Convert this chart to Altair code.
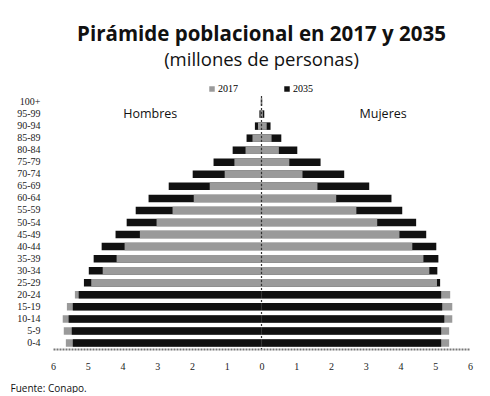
import altair as alt
import pandas as pd

ages = ["0-4", "5-9", "10-14", "15-19", "20-24", "25-29", "30-34", "35-39",
        "40-44", "45-49", "50-54", "55-59", "60-64", "65-69", "70-74",
        "75-79", "80-84", "85-89", "90-94", "95-99", "100+"]

men_2017 = [5.63, 5.69, 5.72, 5.60, 5.37, 4.90, 4.57, 4.17, 3.94, 3.50, 3.02,
            2.56, 1.95, 1.49, 1.06, 0.78, 0.46, 0.26, 0.10, 0.03, 0.01]
men_2035 = [5.43, 5.46, 5.55, 5.43, 5.26, 5.11, 4.97, 4.83, 4.60, 4.20, 3.88,
            3.62, 3.25, 2.67, 1.98, 1.38, 0.83, 0.43, 0.19, 0.06, 0.02]
women_2017 = [5.40, 5.40, 5.49, 5.49, 5.43, 5.05, 4.83, 4.66, 4.34, 3.97, 3.33,
              2.73, 2.15, 1.61, 1.18, 0.80, 0.50, 0.29, 0.15, 0.04, 0.01]
women_2035 = [5.17, 5.17, 5.26, 5.20, 5.17, 5.14, 5.06, 5.09, 5.03, 4.74, 4.45,
              4.05, 3.74, 3.10, 2.38, 1.70, 1.03, 0.57, 0.26, 0.08, 0.02]

years = ["2017", "2035"]
sex_labels = ["Hombres", "Mujeres"]
sex_label_x = [-3.2, 3.5]
sex_label_age = ["95-99", "95-99"]
x_ticks = list(range(-6, 7))

rows = []
for sex, sign, s17, s35 in [("Hombres", -1, men_2017, men_2035),
                            ("Mujeres", 1, women_2017, women_2035)]:
    for a, v17, v35 in zip(ages, s17, s35):
        big17 = v17 >= v35
        rows.append({"age": a, "sex": sex, "year": "2017", "value": sign * v17,
                     "layer": "big" if big17 else "small"})
        rows.append({"age": a, "sex": sex, "year": "2035", "value": sign * v35,
                     "layer": "small" if big17 else "big"})
df = pd.DataFrame(rows)
lab_df = pd.DataFrame({"text": sex_labels, "value": sex_label_x, "age": sex_label_age})
zero_df = pd.DataFrame({"value": [0]})

age_order = ages[::-1]

x_axis = alt.Axis(values=x_ticks, labelExpr="abs(datum.value)",
                  labelOverlap=False, labelFlush=False, tickCount=13,
                  grid=False, ticks=False, labelPadding=12,
                  labelFont="Liberation Serif", labelFontSize=10,
                  labelColor="#222", domainColor="#777",
                  domainWidth=2, domainDash=[2, 1],
                  title="Fuente: Conapo.", titleAnchor="start",
                  titleAlign="left", titleX=-43, titleY=34,
                  titleFont="Open Sans", titleFontSize=10,
                  titleFontWeight="normal", titleColor="#111")
x_scale = alt.Scale(domain=[-6, 6], nice=False)


def x_enc():
    return alt.X("value:Q", scale=x_scale, axis=x_axis)


def y_enc():
    return alt.Y("age:N", sort=age_order,
                 scale=alt.Scale(paddingInner=0.0, paddingOuter=0.0),
                 axis=alt.Axis(title=None, ticks=False, domain=False,
                               labelPadding=13, labelFont="Liberation Serif",
                               labelFontSize=10, labelColor="#222"))


color_enc = alt.Color("year:N",
                      scale=alt.Scale(domain=years, range=["#9a9a9a", "#111111"]),
                      legend=alt.Legend(title=None, orient="none",
                                        direction="horizontal",
                                        legendX=154, legendY=-12,
                                        symbolType="square", symbolSize=30,
                                        symbolStrokeWidth=0,
                                        labelFont="Liberation Serif",
                                        labelFontSize=10, labelOffset=1,
                                        columnPadding=44))

base = alt.Chart(df)
big = base.transform_filter(alt.datum.layer == "big").mark_bar(size=7.5).encode(
    x=x_enc(), y=y_enc(), color=color_enc)
small = base.transform_filter(alt.datum.layer == "small").mark_bar(size=7.5).encode(
    x=x_enc(), y=y_enc(), color=color_enc)

zero = alt.Chart(zero_df).mark_rule(
    color="#333", strokeDash=[2, 2], strokeWidth=1.2).encode(x=x_enc())

labels = alt.Chart(lab_df).mark_text(font="Open Sans", fontSize=12.5,
                                     color="#111").encode(
    x=x_enc(), y=y_enc(), text="text:N")

chart = alt.layer(big, small, zero, labels).properties(
    width=417, height=253,
    autosize=alt.AutoSizeParams(type="none"),
    padding={"left": 45, "top": 88, "right": 12, "bottom": 44},
    title=alt.TitleParams(
        text="Pirámide poblacional en 2017 y 2035",
        subtitle="(millones de personas)",
        font="Open Sans", fontSize=20.5, fontWeight="bold", color="#111",
        subtitleFont="Open Sans", subtitleFontSize=18.5, subtitleColor="#111",
        subtitlePadding=5, anchor="middle", offset=15),
).configure_view(stroke=None)

chart.save("out.html", embed_options={"renderer": "svg", "actions": False})
